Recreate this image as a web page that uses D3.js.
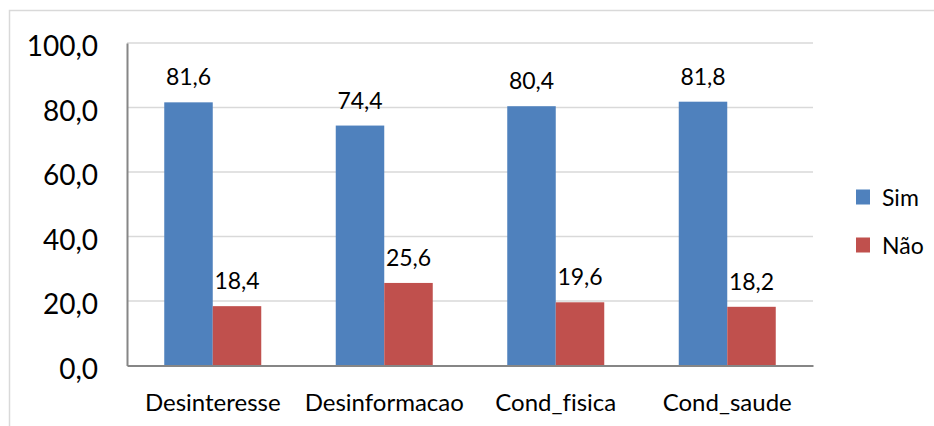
<!DOCTYPE html>
<html lang="pt">
<head>
<meta charset="UTF-8">
<title>Sim / Não</title>
<script src="https://cdn.jsdelivr.net/npm/d3@7"></script>
<style>
body {
	margin: 0;
	background: #fff;
	font-family: Lato, "Noto Sans", sans-serif;
}
text {
	font-variant-ligatures: none;
}
.grid line {
	stroke: #d9d9d9;
	stroke-width: 1.5px;
}
.axis path, .axis line {
	stroke: #868686;
	stroke-width: 2px;
}
</style>
</head>
<body>
<svg width="934" height="426"></svg>
<script>
var categories = ["Desinteresse", "Desinformacao", "Cond_fisica", "Cond_saude"];
var series = ["Sim", "Não"];
var simValues = [81.6, 74.4, 80.4, 81.8];
var naoValues = [18.4, 25.6, 19.6, 18.2];
var yTicks = [0, 20, 40, 60, 80, 100];
var colors = ["#4f81bd", "#c0504d"];

var svg = d3.select("svg"),
	margin = {top: 43, right: 121, bottom: 60.5, left: 127},
	width = +svg.attr("width") - margin.left - margin.right,
	height = +svg.attr("height") - margin.top - margin.bottom;

var fmt = function(v) { return d3.format(".1f")(v).replace(".", ","); };

// outer chart border
svg.append("rect")
	.attr("x", 9.5).attr("y", 10.5)
	.attr("width", 940).attr("height", 430)
	.attr("fill", "none")
	.attr("stroke", "#d9d9d9")
	.attr("stroke-width", 1.5);

var g = svg.append("g").attr("transform", "translate(" + margin.left + "," + margin.top + ")");

var p = 1 - 97 / (width / categories.length);
var x0 = d3.scaleBand().domain(categories).range([0, width]).paddingInner(p).paddingOuter(p / 2);
var x1 = d3.scaleBand().domain(series).range([0, x0.bandwidth()]);
var y = d3.scaleLinear().domain([0, 100]).range([height, 0]);

// gridlines
g.append("g")
	.attr("class", "grid")
	.selectAll("line")
	.data(yTicks.slice(1))
	.enter().append("line")
	.attr("x1", 0).attr("x2", width)
	.attr("y1", function(d) { return y(d); })
	.attr("y2", function(d) { return y(d); });

var rows = categories.map(function(c, i) {
	return {cat: c, vals: [simValues[i], naoValues[i]]};
});

var groups = g.selectAll(".grp")
	.data(rows)
	.enter().append("g")
	.attr("class", "grp")
	.attr("transform", function(d) { return "translate(" + x0(d.cat) + ",0)"; });

groups.selectAll("rect")
	.data(function(d) { return d.vals.map(function(v, j) { return {s: series[j], v: v, j: j}; }); })
	.enter().append("rect")
	.attr("x", function(d) { return x1(d.s); })
	.attr("width", x1.bandwidth())
	.attr("y", function(d) { return y(d.v); })
	.attr("height", function(d) { return height - y(d.v); })
	.attr("fill", function(d) { return colors[d.j]; });

groups.selectAll(".lbl")
	.data(function(d) { return d.vals.map(function(v, j) { return {s: series[j], v: v}; }); })
	.enter().append("text")
	.attr("class", "lbl")
	.attr("x", function(d) { return x1(d.s) + x1.bandwidth() / 2; })
	.attr("y", function(d) { return y(d.v) - 17; })
	.attr("text-anchor", "middle")
	.style("font-size", "23px")
	.attr("fill", "#000")
	.text(function(d) { return fmt(d.v); });

// y axis
var yAxis = g.append("g")
	.attr("class", "axis")
	.call(d3.axisLeft(y).tickValues(yTicks).tickSize(0).tickPadding(29).tickFormat(fmt));
yAxis.selectAll("text")
	.style("font-size", "28px")
	.style("font-family", "Lato, sans-serif")
	.attr("fill", "#000")
	.attr("dy", "0.45em");

// x axis
var xAxis = g.append("g")
	.attr("class", "axis")
	.attr("transform", "translate(0," + height + ")")
	.call(d3.axisBottom(x0).tickSize(0).tickPadding(28).tickSizeOuter(0));
xAxis.selectAll("text")
	.style("font-size", "24px")
	.style("font-family", "Lato, sans-serif")
	.attr("fill", "#000");

// legend
var legend = svg.append("g")
	.selectAll("g")
	.data(series)
	.enter().append("g")
	.attr("transform", function(d, i) { return "translate(856," + (189.5 + i * 48) + ")"; });

legend.append("rect")
	.attr("width", 14).attr("height", 15)
	.attr("fill", function(d, i) { return colors[i]; });

legend.append("text")
	.attr("x", 26).attr("y", 16)
	.style("font-size", "23px")
	.attr("fill", "#000")
	.text(function(d) { return d; });
</script>
</body>
</html>
